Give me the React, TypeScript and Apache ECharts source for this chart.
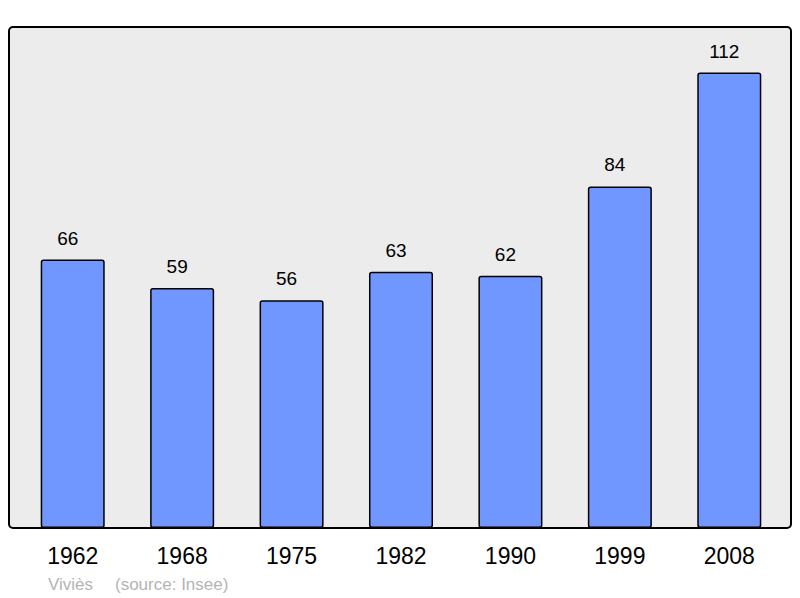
import React, { useEffect, useRef } from "react";
import * as echarts from "echarts";

const categories = ["1962", "1968", "1975", "1982", "1990", "1999", "2008"];
const values = [66, 59, 56, 63, 62, 84, 112];
const footerPlace = "Viviès";
const footerSource = "(source: Insee)";

export default function App() {
  const ref = useRef<HTMLDivElement>(null);
  useEffect(() => {
    if (!ref.current) return;
    const chart = echarts.init(ref.current, null, { renderer: "svg" });
    const font = "Liberation Sans, Arial, sans-serif";
    chart.setOption({
      animation: false,
      graphic: [
        {
          type: "rect",
          z: -10,
          silent: true,
          shape: { x: 9, y: 27, width: 782, height: 501, r: 4 },
          style: { fill: "#ececec", stroke: "#000", lineWidth: 2 },
        },
        {
          type: "text",
          x: 48,
          y: 584,
          style: {
            text: footerPlace,
            fill: "#b4b4b4",
            font: `17px ${font}`,
            verticalAlign: "middle",
          },
        },
        {
          type: "text",
          x: 115,
          y: 584,
          style: {
            text: footerSource,
            fill: "#b4b4b4",
            font: `17px ${font}`,
            verticalAlign: "middle",
          },
        },
      ],
      grid: { left: 18, right: 16, top: 27, bottom: 70 },
      xAxis: {
        type: "category",
        data: categories,
        axisLine: { show: false },
        axisTick: { show: false },
        axisLabel: {
          margin: 16,
          fontSize: 23,
          color: "#000",
          fontFamily: font,
        },
      },
      yAxis: {
        type: "value",
        min: 0,
        max: 123.2,
        show: false,
        splitLine: { show: false },
      },
      series: [
        {
          type: "bar",
          data: values,
          barWidth: "58.5%",
          itemStyle: {
            color: "#7097ff",
            borderColor: "#000",
            borderWidth: 1.5,
            borderRadius: 2,
          },
          label: {
            show: true,
            position: "top",
            distance: 12,
            offset: [-5, 0],
            fontSize: 19,
            color: "#000",
            fontFamily: font,
          },
        },
      ],
    });
    return () => chart.dispose();
  }, []);
  return <div ref={ref} style={{ width: 800, height: 598, position: "absolute", left: 0, top: 0 }} />;
}
